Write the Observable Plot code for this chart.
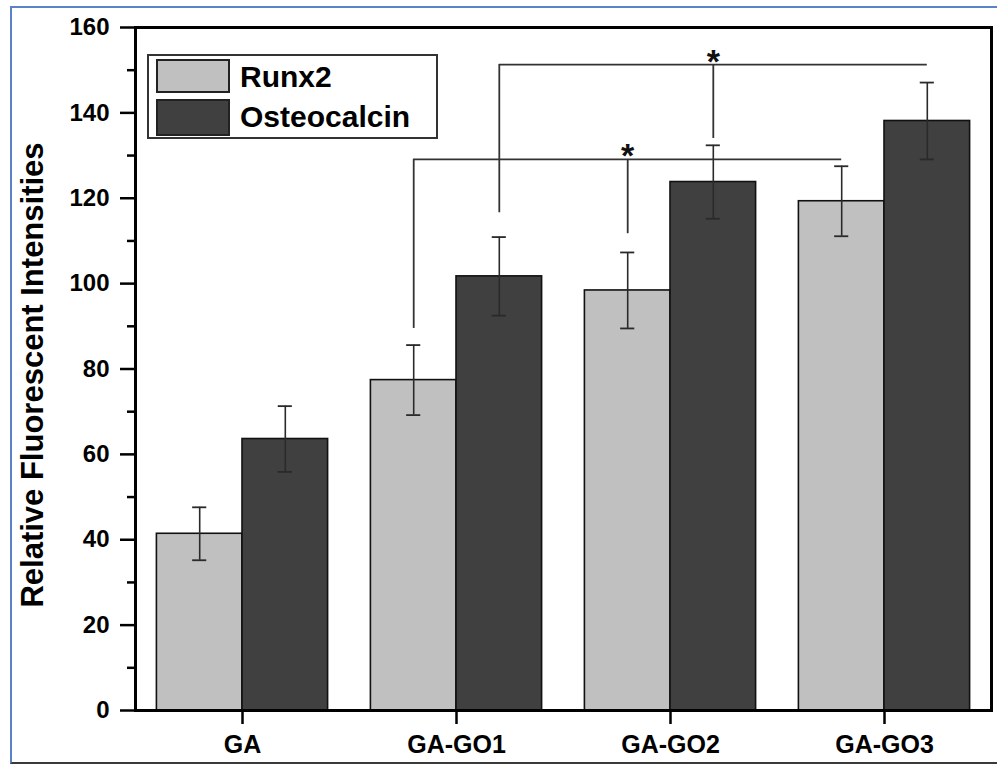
<!DOCTYPE html>
<html>
<head>
<meta charset="utf-8">
<script src="https://cdn.jsdelivr.net/npm/d3@7"></script>
<script src="https://cdn.jsdelivr.net/npm/@observablehq/plot@0.6"></script>
<style>
  body { margin: 0; background: #fff; font-family: "Liberation Sans", Arial, sans-serif; }
  #wrap { position: relative; width: 997px; height: 764px; overflow: hidden; background: #fff; }
  #border { position: absolute; left: 10px; top: 6px; right: -4px; height: 754px;
            border-left: 2px solid #5a82c8; border-top: 2px solid #5a82c8; border-bottom: 2px solid #3a3a3a; }
  #chart { position: absolute; left: 0; top: 0; }
  #legend { position: absolute; left: 147px; top: 54px; width: 291px; height: 85px; box-sizing: border-box;
            border: 2px solid #333; background: #fff; }
  .sw { position: absolute; left: 7px; width: 74px; box-sizing: border-box; border: 2px solid #222; }
  .lt { position: absolute; left: 91px; font-size: 30px; line-height: 30px; font-weight: bold; color: #000; white-space: nowrap; }
</style>
</head>
<body>
<div id="wrap">
  <div id="border"></div>
  <div id="chart"></div>
  <div id="legend"></div>
</div>
<script>
// ---- data ----
const groups = ["GA", "GA-GO1", "GA-GO2", "GA-GO3"];
const series = ["Runx2", "Osteocalcin"];
const runx2 = [41.4, 77.4, 98.4, 119.3];
const runx2Err = [6.2, 8.2, 8.9, 8.2];
const osteocalcin = [63.6, 101.7, 123.8, 138.1];
const osteocalcinErr = [7.7, 9.2, 8.6, 9.0];
const colors = ["#c0c0c0", "#404040"];
const yTicks = [0, 20, 40, 60, 80, 100, 120, 140, 160];
const yMinorTicks = [10, 30, 50, 70, 90, 110, 130, 150];
const yTitle = "Relative Fluorescent Intensities";
// significance brackets (one per series): GA-GO1 vs GA-GO2 vs GA-GO3
const bracketSeries = ["Runx2", "Osteocalcin"];
const bracketLevel = [129.1, 151.3];
const bracketLeftEnd = [89.5, 116.6];
const bracketMidEnd = [111.7, 134.0];
const bracketGroups = ["GA-GO1", "GA-GO2", "GA-GO3"];

// ---- layout constants (data units on the group axis) ----
const BAR_HALF = 0.2;
const CAP_HALF = 0.033;
const center = (g, s) => groups.indexOf(g) + (series.indexOf(s) - 0.5) * 2 * BAR_HALF;

const rows = [];
groups.forEach((g, i) => {
  rows.push({group: g, series: "Runx2", value: runx2[i], err: runx2Err[i], c: center(g, "Runx2")});
  rows.push({group: g, series: "Osteocalcin", value: osteocalcin[i], err: osteocalcinErr[i], c: center(g, "Osteocalcin")});
});
const caps = rows.flatMap(d => [{c: d.c, y: d.value + d.err}, {c: d.c, y: d.value - d.err}]);

const brackets = bracketSeries.map((s, i) => ({
  level: bracketLevel[i],
  xl: center(bracketGroups[0], s),
  xm: center(bracketGroups[1], s),
  xr: center(bracketGroups[2], s),
  leftEnd: bracketLeftEnd[i],
  midEnd: bracketMidEnd[i]
}));

const chart = Plot.plot({
  width: 997,
  height: 764,
  marginLeft: 135,
  marginRight: 6,
  marginTop: 27,
  marginBottom: 54,
  x: {type: "linear", domain: [-0.5, groups.length - 0.5]},
  y: {domain: [0, 160]},
  style: {fontFamily: "'Liberation Sans', Arial, sans-serif", background: "transparent", overflow: "visible"},
  marks: [
    Plot.rectY(rows.filter(d => d.series === "Runx2"), {
      x1: d => d.c - BAR_HALF, x2: d => d.c + BAR_HALF, y1: 0, y2: "value",
      fill: colors[0], stroke: "#111", strokeWidth: 1.6
    }),
    Plot.rectY(rows.filter(d => d.series === "Osteocalcin"), {
      x1: d => d.c - BAR_HALF, x2: d => d.c + BAR_HALF, y1: 0, y2: "value",
      fill: colors[1], stroke: "#111", strokeWidth: 1.6
    }),
    Plot.ruleX(rows, {x: "c", y1: d => d.value - d.err, y2: d => d.value + d.err, stroke: "#2a2a2a", strokeWidth: 1.6}),
    Plot.ruleY(caps, {y: "y", x1: d => d.c - CAP_HALF, x2: d => d.c + CAP_HALF, stroke: "#2a2a2a", strokeWidth: 1.8}),
    // brackets
    Plot.ruleY(brackets, {y: "level", x1: "xl", x2: "xr", stroke: "#333", strokeWidth: 1.8}),
    Plot.ruleX(brackets, {x: "xl", y1: "leftEnd", y2: "level", stroke: "#333", strokeWidth: 1.8}),
    Plot.ruleX(brackets, {x: "xm", y1: "midEnd", y2: "level", stroke: "#333", strokeWidth: 1.8}),
    Plot.text(brackets, {x: "xm", y: "level", text: () => "*", fontSize: 34, fontWeight: "bold", lineAnchor: "middle", dy: -3, fill: "#111"}),
    // axes
    Plot.axisY({ticks: yTicks, tickSize: 15, tickPadding: 11, fontSize: 24, fontWeight: "bold", strokeWidth: 2.5, label: null}),
    Plot.axisY({ticks: yMinorTicks, tickSize: 8, text: null, strokeWidth: 2.5, label: null}),
    Plot.axisX({ticks: groups.map((g, i) => i), tickFormat: i => groups[i], tickSize: 14, tickPadding: 11,
                fontSize: 25, fontWeight: "bold", strokeWidth: 2.5, label: null}),
    Plot.frame({stroke: "#000", strokeWidth: 3}),
    Plot.text([yTitle], {frameAnchor: "left", rotate: -90, textAnchor: "middle", dx: -102, dy: 6, fontSize: 31,
                         fontWeight: "bold", lineAnchor: "middle", fill: "#000"})
  ]
});
document.getElementById("chart").appendChild(chart);

// legend
const legend = document.getElementById("legend");
series.forEach((s, i) => {
  const sw = document.createElement("div");
  sw.className = "sw";
  sw.style.top = (i === 0 ? 3 : 43) + "px";
  sw.style.height = (i === 0 ? 34 : 37) + "px";
  sw.style.background = colors[i];
  legend.appendChild(sw);
  const t = document.createElement("div");
  t.className = "lt";
  t.style.top = (i === 0 ? 6 : 46) + "px";
  t.textContent = s;
  legend.appendChild(t);
});
</script>
</body>
</html>
